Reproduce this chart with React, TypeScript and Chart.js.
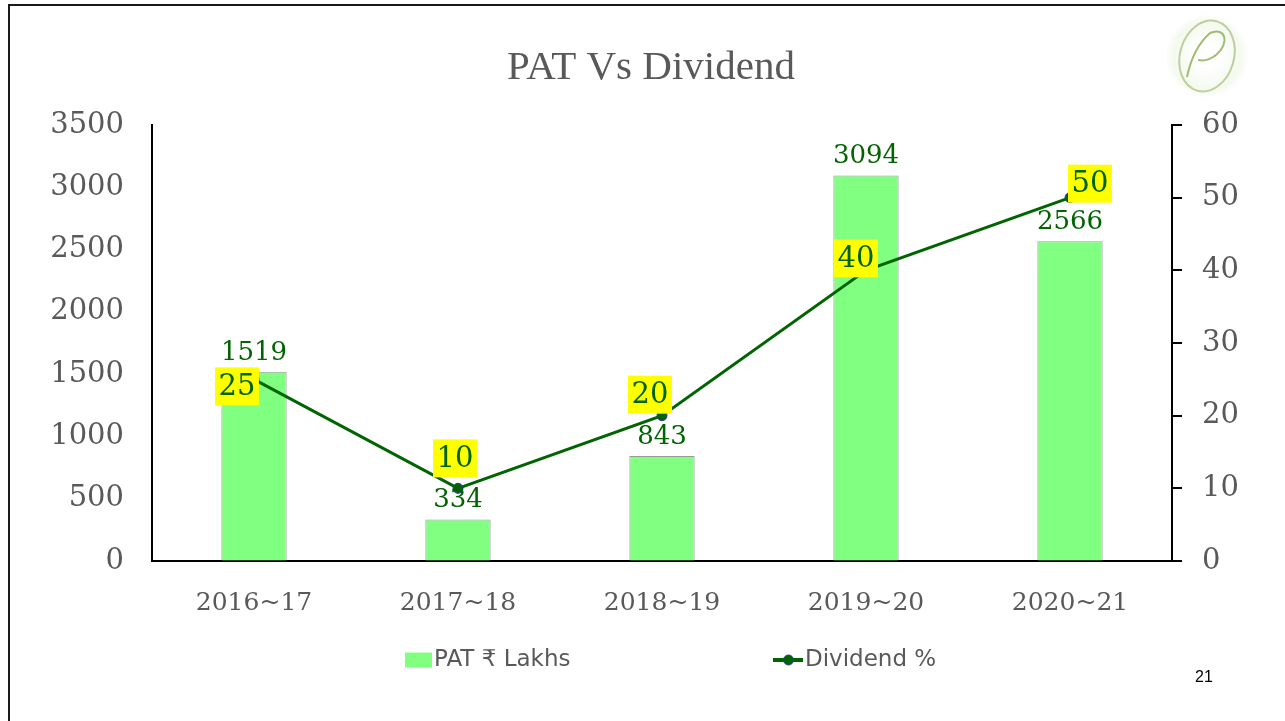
import React, { useEffect, useRef } from "react";
import { Chart, registerables } from "chart.js";

Chart.register(...registerables);

// ---- Data ----
const categories = ["2016~17", "2017~18", "2018~19", "2019~20", "2020~21"];
const patValues = [1519, 334, 843, 3094, 2566];
const dividendValues = [25, 10, 20, 40, 50];
const seriesNames = ["PAT ₹ Lakhs", "Dividend %"];
const leftAxisMax = 3500;
const leftAxisStep = 500;
const rightAxisMax = 60;
const rightAxisStep = 10;
const titleText = "PAT Vs Dividend";
const pageNumber = "21";

// label box offsets (dx, dy) relative to each dividend point
const dividendLabelOffsets = [
  [-17, 7],
  [-3, -30],
  [-12, -21],
  [-10, -12],
  [20, -14],
];

const DARK_GREEN = "#006400";
const BAR_GREEN = "#80FF80";
const GREY_TEXT = "#595959";

const decorPlugin = {
  id: "decor",
  beforeDraw(chart: any) {
    const ctx = chart.ctx as CanvasRenderingContext2D;
    ctx.save();
    ctx.fillStyle = "#1a1a1a";
    ctx.fillRect(8, 4, chart.width - 8, 2);
    ctx.fillRect(8, 4, 2, chart.height - 4);
    // Title
    ctx.font = "41px 'Liberation Serif'";
    ctx.fillStyle = GREY_TEXT;
    ctx.textAlign = "center";
    ctx.textBaseline = "middle";
    ctx.fillText(titleText, 651, 68);
    ctx.restore();
  },
  afterDatasetsDraw(chart: any) {
    const ctx = chart.ctx as CanvasRenderingContext2D;
    ctx.save();
    // bar value labels
    const barMeta = chart.getDatasetMeta(0);
    ctx.font = "26px 'DejaVu Serif'";
    ctx.fillStyle = DARK_GREEN;
    ctx.textAlign = "center";
    ctx.textBaseline = "middle";
    barMeta.data.forEach((el: any, i: number) => {
      ctx.fillText(String(chart.data.datasets[0].data[i]), el.x, el.y - 19);
    });
    // dividend labels with yellow boxes
    const lineMeta = chart.getDatasetMeta(1);
    ctx.font = "29px 'DejaVu Serif'";
    lineMeta.data.forEach((el: any, i: number) => {
      const txt = String(chart.data.datasets[1].data[i]);
      const [dx, dy] = dividendLabelOffsets[i];
      const cx = el.x + dx;
      const cy = el.y + dy;
      const w = ctx.measureText(txt).width + 7;
      const h = 38;
      ctx.fillStyle = "#FFFF00";
      ctx.fillRect(cx - w / 2, cy - h / 2, w, h);
      ctx.fillStyle = DARK_GREEN;
      ctx.fillText(txt, cx, cy + 1);
    });
    ctx.restore();
  },
  afterDraw(chart: any) {
    const ctx = chart.ctx as CanvasRenderingContext2D;
    ctx.save();
    // Legend
    const ly = 660;
    ctx.font = "23px 'DejaVu Sans'";
    ctx.textBaseline = "middle";
    ctx.textAlign = "left";
    ctx.fillStyle = BAR_GREEN;
    ctx.fillRect(405, ly - 7.5, 27, 15);
    ctx.fillStyle = GREY_TEXT;
    ctx.fillText(chart.data.datasets[0].label, 434, ly);

    ctx.strokeStyle = DARK_GREEN;
    ctx.lineWidth = 4;
    ctx.beginPath();
    ctx.moveTo(773, ly);
    ctx.lineTo(803, ly);
    ctx.stroke();
    ctx.beginPath();
    ctx.arc(788.5, ly, 5, 0, Math.PI * 2);
    ctx.fillStyle = DARK_GREEN;
    ctx.fill();
    ctx.lineWidth = 1;
    ctx.strokeStyle = "#2a3a9a";
    ctx.stroke();
    ctx.fillStyle = GREY_TEXT;
    ctx.fillText(chart.data.datasets[1].label, 805, ly);

    // Page number
    ctx.font = "16px 'Liberation Sans'";
    ctx.fillStyle = "#000";
    ctx.textAlign = "center";
    ctx.fillText(pageNumber, 1204, 678);

    // Logo
    ctx.save();
    const g = ctx.createRadialGradient(1207, 56, 10, 1207, 56, 42);
    g.addColorStop(0, "rgba(225,238,205,0.0)");
    g.addColorStop(0.75, "rgba(225,238,205,0.35)");
    g.addColorStop(1, "rgba(225,238,205,0)");
    ctx.fillStyle = g;
    ctx.fillRect(1165, 14, 84, 84);
    ctx.translate(1207, 56);
    ctx.rotate(0.28);
    ctx.beginPath();
    ctx.ellipse(0, 0, 27, 36, 0, 0, Math.PI * 2);
    ctx.strokeStyle = "#bccf9f";
    ctx.lineWidth = 2;
    ctx.stroke();
    ctx.restore();
    ctx.strokeStyle = "#9fbd70";
    ctx.lineWidth = 2;
    ctx.beginPath();
    ctx.moveTo(1187, 77);
    ctx.quadraticCurveTo(1193, 48, 1210, 33);
    ctx.bezierCurveTo(1226, 26, 1230, 44, 1216, 55);
    ctx.quadraticCurveTo(1207, 62, 1198, 60);
    ctx.stroke();
    ctx.restore();
  },
};

export default function App() {
  const canvasRef = useRef<HTMLCanvasElement | null>(null);

  useEffect(() => {
    if (!canvasRef.current) return;
    const chart = new Chart(canvasRef.current, {
      type: "bar",
      data: {
        labels: categories,
        datasets: [
          {
            type: "bar",
            label: seriesNames[0],
            data: patValues,
            yAxisID: "y",
            backgroundColor: BAR_GREEN,
            borderColor: "#9a9a9a",
            borderWidth: { top: 1, left: 1, right: 1, bottom: 0 },
            borderSkipped: "bottom",
            barPercentage: 0.32,
            categoryPercentage: 1,
            order: 2,
          } as any,
          {
            type: "line",
            label: seriesNames[1],
            data: dividendValues,
            yAxisID: "y1",
            borderColor: DARK_GREEN,
            borderWidth: 3,
            pointRadius: 5,
            pointBackgroundColor: DARK_GREEN,
            pointBorderColor: "#2a3a9a",
            pointBorderWidth: 1,
            tension: 0,
            order: 1,
          } as any,
        ],
      },
      options: {
        responsive: true,
        maintainAspectRatio: false,
        animation: false,
        layout: { padding: { left: 0, right: 0, top: 125, bottom: 100 } },
        plugins: {
          legend: { display: false },
          tooltip: { enabled: false },
          title: { display: false },
        },
        scales: {
          x: {
            grid: { display: true, drawOnChartArea: false, drawTicks: false },
            border: { display: true, color: "#000", width: 2 },
            ticks: {
              color: GREY_TEXT,
              font: { family: "'DejaVu Serif'", size: 25 },
              padding: 27,
              maxRotation: 0,
            },
            afterFit: (s: any) => {
              s.height = 60;
            },
          },
          y: {
            position: "left",
            min: 0,
            max: leftAxisMax,
            grid: { display: true, drawOnChartArea: false, drawTicks: false },
            border: { display: true, color: "#000", width: 2 },
            ticks: {
              stepSize: leftAxisStep,
              color: GREY_TEXT,
              font: { family: "'DejaVu Serif'", size: 29 },
              padding: 28,
              callback: (v: any) => String(v),
            },
            afterFit: (s: any) => {
              s.width = 152;
            },
          },
          y1: {
            position: "right",
            min: 0,
            max: rightAxisMax,
            grid: {
              display: true,
              drawOnChartArea: false,
              drawTicks: true,
              tickLength: 10,
              color: "#000",
              lineWidth: 2,
            },
            border: { display: true, color: "#000", width: 2 },
            ticks: {
              stepSize: rightAxisStep,
              color: GREY_TEXT,
              font: { family: "'DejaVu Serif'", size: 29 },
              padding: 20,
              callback: (v: any) => String(v),
            },
            afterFit: (s: any) => {
              s.width = 113;
            },
          },
        },
      } as any,
      plugins: [decorPlugin],
    });
    return () => chart.destroy();
  }, []);

  return (
    <div style={{ position: "fixed", left: 0, top: 0, width: 1285, height: 721, background: "#fff" }}>
      <canvas ref={canvasRef} />
    </div>
  );
}
